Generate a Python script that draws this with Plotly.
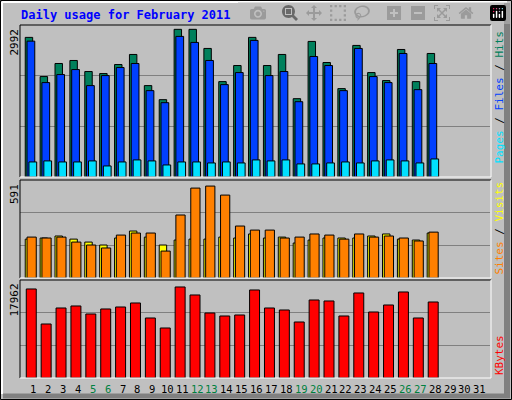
import plotly.graph_objects as go

days = list(range(1, 32))
weekend = [5, 6, 12, 13, 19, 20, 26, 27]

hits = [2829, 2035, 2300, 2361, 2137, 2096, 2279, 2483, 1852, 1567, 2992, 2992, 2605, 1933,
        2259, 2829, 2259, 2483, 1587, 2747, 2320, 1791, 2666, 2116, 1954, 2584, 1933, 2503]
files = [2753, 1913, 2076, 2177, 1852, 2055, 2218, 2300, 1750, 1506, 2849, 2727, 2361, 1872,
         2116, 2768, 2055, 2137, 1526, 2442, 2259, 1750, 2605, 2035, 1913, 2503, 1770, 2300]
pages = [305, 326, 305, 305, 326, 224, 305, 346, 326, 244, 305, 305, 285, 305,
         285, 346, 326, 346, 265, 265, 285, 305, 285, 326, 346, 326, 285, 366]
sites = [250, 257, 270, 250, 231, 212, 257, 302, 263, 212, 244, 250, 250, 263,
         257, 283, 257, 263, 225, 244, 257, 257, 257, 270, 283, 250, 244, 289]
visits = [263, 257, 263, 231, 212, 193, 276, 289, 289, 173, 405, 578, 591, 533,
          334, 308, 308, 257, 263, 283, 276, 250, 283, 263, 270, 257, 238, 295]
kbytes = [17567, 10659, 13817, 14212, 12633, 13620, 14014, 14804, 11843, 9869, 17962, 16383, 12830, 12238,
          12435, 17370, 13817, 13422, 11054, 15396, 15199, 12238, 16778, 13027, 14409, 16975, 11843, 15001]

d = days[:28]
line = dict(color="black", width=1)
fig = go.Figure()

def bars(y, color, offset, width, yaxis):
    fig.add_trace(go.Bar(x=d, y=y, marker=dict(color=color, line=line),
                         offset=offset, width=width, yaxis=yaxis, showlegend=False,
                         hoverinfo="y"))

bars(hits, "#00805c", -0.54, 0.5, "y")
bars(files, "#0040ff", -0.42, 0.52, "y")
bars(pages, "#00e0ff", -0.29, 0.52, "y")
bars(sites, "#ffff00", -0.54, 0.5, "y2")
bars(visits, "#ff8000", -0.42, 0.62, "y2")
bars(kbytes, "#ff0000", -0.47, 0.67, "y3")

mono = "DejaVu Sans Mono"
grid = dict(showgrid=True, gridcolor="#808080", gridwidth=1, showticklabels=False,
            zeroline=False, ticks="", showline=False)
top_max, mid_max, bot_max = 3080, 630, 19340
fig.update_layout(
    width=512, height=400, margin=dict(l=0, r=0, t=0, b=0),
    paper_bgcolor="#c0c0c0", plot_bgcolor="#c0c0c0", barmode="overlay",
    xaxis=dict(range=[0.108, 31.68], domain=[20 / 512, 490 / 512], showticklabels=False,
               showgrid=False, zeroline=False, anchor="y3", ticks=""),
    yaxis=dict(domain=[0.5575, 0.9375], range=[0, top_max],
               tickvals=[top_max / 3, 2 * top_max / 3], **grid),
    yaxis2=dict(domain=[0.305, 0.55], range=[0, mid_max],
                tickvals=[mid_max / 3, 2 * mid_max / 3], **grid),
    yaxis3=dict(domain=[0.055, 0.30], range=[0, bot_max],
                tickvals=[bot_max / 3, 2 * bot_max / 3], **grid),
    font=dict(family=mono),
)

# frame and panel borders (pixel coords -> paper)
def px(x, y):
    return x / 512, 1 - y / 400

shapes = []

def seg(x0, y0, x1, y1, color, w=1):
    a, b = px(x0, y0)
    c, e = px(x1, y1)
    shapes.append(dict(type="line", xref="paper", yref="paper", x0=a, y0=b, x1=c, y1=e,
                       line=dict(color=color, width=w)))

seg(507, 3, 507, 398, "#808080", 6)
seg(3, 396, 510, 396, "#808080", 5)
seg(2, 2, 507, 2, "white", 2)
seg(2, 2, 2, 394, "white", 2)
a, b = px(0.5, 0.5)
c, e = px(511.5, 399.5)
shapes.append(dict(type="rect", xref="paper", yref="paper", x0=a, y0=e, x1=c, y1=b,
                   line=dict(color="black", width=1)))
for y0, y1 in [(25, 177), (180, 278), (280, 378)]:
    seg(20, y0, 491, y0, "black")
    seg(20, y0, 20, y1, "black")
    seg(491, y0, 491, y1, "white")
    seg(20, y1, 491, y1, "white")
fig.update_layout(shapes=shapes)

ann = []
ann.append(dict(text="<b>Daily usage for February 2011</b>", x=19 / 512, y=1 - 15 / 400,
                xref="paper", yref="paper", xanchor="left", yanchor="middle", showarrow=False,
                font=dict(family=mono, size=12, color="#0000ff")))
for txt, ytop in [("2992", 27), ("591", 182), ("17962", 282)]:
    ann.append(dict(text=txt, x=14 / 512, y=1 - ytop / 400, xref="paper", yref="paper",
                    textangle=-90, xanchor="center", yanchor="top", showarrow=False,
                    font=dict(family=mono, size=11, color="black")))
right = [
    ('<span style="color:#00e0ff">Pages</span> / <span style="color:#0040ff">Files</span> / '
     '<span style="color:#00805c">Hits</span>', 29, "top"),
    ('<span style="color:#ff8000">Sites</span> / <span style="color:#ffff00">Visits</span>', 277, "bottom"),
    ('<span style="color:#ff0000">KBytes</span>', 377, "bottom"),
]
for txt, yy, anc in right:
    ann.append(dict(text=txt, x=499 / 512, y=1 - yy / 400, xref="paper", yref="paper",
                    textangle=-90, xanchor="center", yanchor=anc, showarrow=False,
                    font=dict(family=mono, size=11, color="black")))
for day in days:
    ann.append(dict(text=str(day), x=day, y=1 - 389 / 400, xref="x", yref="paper",
                    xanchor="center", yanchor="middle", showarrow=False,
                    font=dict(family=mono, size=10.5,
                              color="#008040" if day in weekend else "black")))
fig.update_layout(annotations=ann)

fig.write_html("out.html")

# remove the page margin so the 512x400 figure fills the window
with open("out.html") as f:
    html = f.read()
html = html.replace("<head>", "<head><style>body{margin:0;overflow:hidden}</style>", 1)
with open("out.html", "w") as f:
    f.write(html)
